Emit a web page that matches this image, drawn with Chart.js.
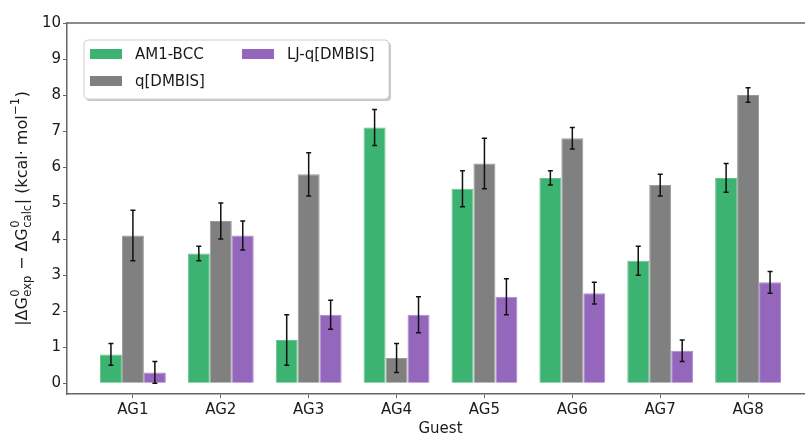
<!DOCTYPE html>
<html>
<head>
<meta charset="utf-8">
<script src="https://cdn.jsdelivr.net/npm/chart.js@4"></script>
<style>
  html, body { margin: 0; padding: 0; background: #fff; }
  #wrap { width: 805px; height: 435px; overflow: hidden; }
</style>
</head>
<body>
<div id="wrap"><canvas id="grafico" width="820" height="435"></canvas></div>
<script>
const guests = ["AG1", "AG2", "AG3", "AG4", "AG5", "AG6", "AG7", "AG8"];
const yTicks = [0, 1, 2, 3, 4, 5, 6, 7, 8, 9, 10];

const am1Bcc    = [0.8, 3.6, 1.2, 7.1, 5.4, 5.7, 3.4, 5.7];
const am1BccErr = [0.3, 0.2, 0.7, 0.5, 0.5, 0.2, 0.4, 0.4];
const qDmbis    = [4.1, 4.5, 5.8, 0.7, 6.1, 6.8, 5.5, 8.0];
const qDmbisErr = [0.7, 0.5, 0.6, 0.4, 0.7, 0.3, 0.3, 0.2];
const ljQDmbis    = [0.3, 4.1, 1.9, 1.9, 2.4, 2.5, 0.9, 2.8];
const ljQDmbisErr = [0.3, 0.4, 0.4, 0.5, 0.5, 0.3, 0.3, 0.3];

const fuente = "DejaVu Sans";
const ejeColor = "#666";

function serie(label, valores, errores, color, borde) {
    return {
        label: label,
        data: valores.map((v, i) => ({ x: i, y: v })),
        errores: errores,
        backgroundColor: color,
        borderColor: borde,
        borderWidth: 1,
        categoryPercentage: 0.75,
        barPercentage: 1.0
    };
}

// barras de error dibujadas con la escala y
const errorBars = {
    id: "errorBars",
    afterDatasetsDraw(chart) {
        const ctx = chart.ctx;
        const y = chart.scales.y;
        ctx.save();
        ctx.strokeStyle = "#111";
        ctx.lineWidth = 1.5;
        chart.data.datasets.forEach((ds, d) => {
            const meta = chart.getDatasetMeta(d);
            meta.data.forEach((bar, i) => {
                const v = ds.data[i].y, e = ds.errores[i];
                const top = y.getPixelForValue(v + e);
                const bot = y.getPixelForValue(Math.max(v - e, 0));
                ctx.beginPath();
                ctx.moveTo(bar.x, top); ctx.lineTo(bar.x, bot);
                ctx.moveTo(bar.x - 2.5, top); ctx.lineTo(bar.x + 2.5, top);
                ctx.moveTo(bar.x - 2.5, bot); ctx.lineTo(bar.x + 2.5, bot);
                ctx.stroke();
            });
        });
        ctx.restore();
    }
};

// borde superior, titulo del eje y, leyenda en dos columnas
const extras = {
    id: "extras",
    afterDraw(chart) {
        const ctx = chart.ctx;
        const a = chart.chartArea;
        ctx.save();
        ctx.strokeStyle = ejeColor;
        ctx.lineWidth = 1.5;
        ctx.beginPath();
        ctx.moveTo(a.left, a.top); ctx.lineTo(a.right, a.top); ctx.lineTo(a.right, a.bottom);
        ctx.stroke();

        // titulo eje y con subindices
        const main = "16px '" + fuente + "'";
        const small = "11.5px '" + fuente + "'";
        const partes = [
            { t: "|ΔG" }, { sup: "0", sub: "exp" },
            { t: " − ΔG" }, { sup: "0", sub: "calc" },
            { t: "| (kcal· mol" }, { sup: "−1" }, { t: ")" }
        ];
        let total = 0;
        partes.forEach(p => {
            if (p.t) { ctx.font = main; p.w = ctx.measureText(p.t).width; }
            else {
                ctx.font = small;
                p.w = Math.max(ctx.measureText(p.sup || "").width, ctx.measureText(p.sub || "").width) + 1;
            }
            total += p.w;
        });
        ctx.translate(27, (a.top + a.bottom) / 2);
        ctx.rotate(-Math.PI / 2);
        ctx.fillStyle = "#1a1a1a";
        ctx.textBaseline = "alphabetic";
        let x = -total / 2;
        partes.forEach(p => {
            if (p.t) { ctx.font = main; ctx.fillText(p.t, x, 0); }
            else {
                ctx.font = small;
                if (p.sup) ctx.fillText(p.sup, x + 0.5, -8);
                if (p.sub) ctx.fillText(p.sub, x + 0.5, 3.5);
            }
            x += p.w;
        });
        ctx.restore();

        // leyenda
        ctx.save();
        const lx = 84, ly = 40, lw = 305, lh = 59;
        ctx.fillStyle = "rgba(0,0,0,0.22)";
        ctx.beginPath(); ctx.roundRect(lx + 2, ly + 2, lw, lh, 4); ctx.fill();
        ctx.fillStyle = "#fff";
        ctx.strokeStyle = "#d0d0d0";
        ctx.lineWidth = 1;
        ctx.beginPath(); ctx.roundRect(lx, ly, lw, lh, 4); ctx.fill(); ctx.stroke();
        const pos = [[90, 54], [90, 81], [242, 54]];
        ctx.font = "15px '" + fuente + "'";
        ctx.textBaseline = "middle";
        chart.data.datasets.forEach((ds, d) => {
            const [px, py] = pos[d];
            ctx.fillStyle = ds.backgroundColor;
            ctx.fillRect(px, py - 5, 32, 10);
            ctx.fillStyle = "#1a1a1a";
            ctx.fillText(ds.label, px + 45, py + 1);
        });
        ctx.restore();
    }
};

new Chart(document.getElementById("grafico").getContext("2d"), {
    type: "bar",
    data: {
        datasets: [
            serie("AM1-BCC", am1Bcc, am1BccErr, "#3cb371", "#62c48d"),
            serie("q[DMBIS]", qDmbis, qDmbisErr, "#808080", "#9a9a9a"),
            serie("LJ-q[DMBIS]", ljQDmbis, ljQDmbisErr, "#9467bd", "#ac88d0")
        ]
    },
    options: {
        responsive: false,
        animation: false,
        devicePixelRatio: 1,
        layout: { padding: { top: 23, right: 6, left: 0, bottom: 0 } },
        plugins: {
            legend: { display: false },
            tooltip: { enabled: false }
        },
        scales: {
            x: {
                type: "linear",
                min: -0.75,
                max: 7.75,
                offset: false,
                afterBuildTicks: axis => { axis.ticks = guests.map((g, i) => ({ value: i })); },
                afterFit: scale => { scale.height = 41; },
                ticks: {
                    autoSkip: false,
                    maxRotation: 0,
                    padding: 3,
                    color: "#1a1a1a",
                    font: { family: fuente, size: 15 },
                    callback: v => guests[v]
                },
                grid: { offset: false, drawOnChartArea: false, drawTicks: true, tickLength: 4, color: ejeColor },
                border: { display: true, color: ejeColor, width: 1.5 },
                title: {
                    display: true,
                    text: "Guest",
                    color: "#1a1a1a",
                    font: { family: fuente, size: 15 },
                    padding: { top: 0, bottom: -3 }
                }
            },
            y: {
                min: -0.3,
                max: 10,
                afterBuildTicks: axis => { axis.ticks = yTicks.map(v => ({ value: v })); },
                afterFit: scale => { scale.width = 67; },
                ticks: {
                    padding: 2,
                    color: "#1a1a1a",
                    font: { family: fuente, size: 15 }
                },
                grid: { drawOnChartArea: false, drawTicks: true, tickLength: 4, color: ejeColor },
                border: { display: true, color: ejeColor, width: 1.5 }
            }
        }
    },
    plugins: [errorBars, extras]
});
</script>
</body>
</html>
